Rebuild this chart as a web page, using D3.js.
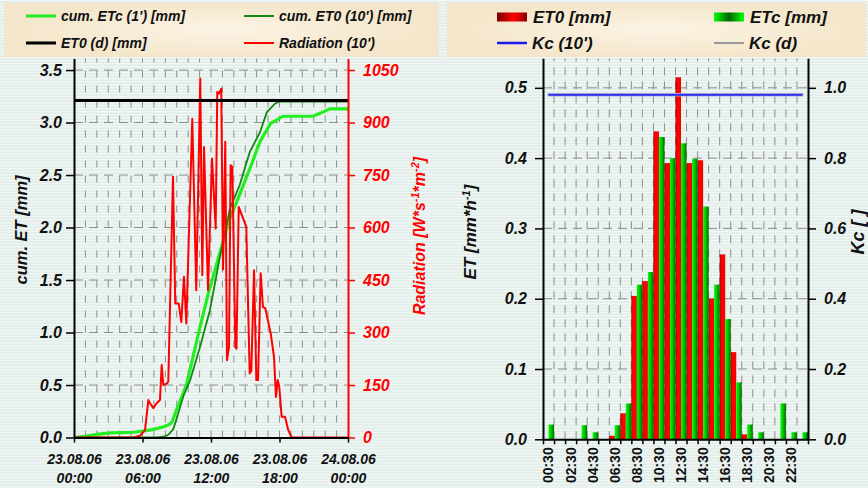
<!DOCTYPE html>
<html>
<head>
<meta charset="utf-8">
<script src="https://cdn.jsdelivr.net/npm/d3@7"></script>
<style>
body { margin: 0; background: #e6f0ec; }
svg text { font-family: "Liberation Sans", Arial, sans-serif; font-weight: bold; font-style: italic; fill: #111; }
</style>
</head>
<body>
<svg id="chart" width="868" height="488"></svg>
<script>
// ---- Données ----
// graphique gauche : heures depuis 23.08.06 00:00
const radHours  = [0, 5.19, 5.78, 6.22, 6.51, 6.66, 6.95, 7.24, 7.53, 7.68, 7.82, 8.12, 8.26, 8.67, 8.87, 9.17, 9.40, 9.63, 9.84,
  10.36, 10.71, 11.06, 11.24, 11.39, 11.74, 12.09, 12.41, 12.55, 12.70, 12.90, 13.05, 13.25, 13.40, 13.58, 13.72, 13.87,
  14.13, 14.23, 14.43, 15.09, 15.39, 15.53, 15.77, 15.97, 16.12, 16.35, 16.55, 16.76, 17.23, 17.52, 17.69, 17.84, 17.98,
  18.19, 18.48, 18.77, 19.07, 24];
const radValues = [0, 0, 5, 21, 107, 98, 84, 98, 107, 207, 150, 154, 160, 745, 383, 383, 330, 459, 326,
  911, 421, 1026, 464, 830, 421, 797, 597, 987, 983, 997, 480, 845, 221, 259, 778, 773,
  259, 254, 659, 602, 183, 190, 478, 164, 164, 469, 373, 369, 297, 230, 116, 164, 145,
  59, 59, 21, 0, 0];

const etcHours  = [0, 1, 2, 3.2, 5.2, 6.65, 7.8, 8.4, 8.6, 9.0, 9.57, 9.87, 10.3, 11.03, 11.76, 12.78, 13.66, 14.5, 15.4, 16.3, 17.2, 18.3, 20.95, 21.6, 22.4, 24];
const etcValues = [0, 0.012, 0.03, 0.044, 0.05, 0.07, 0.10, 0.127, 0.15, 0.27, 0.42, 0.51, 0.71, 1.05, 1.37, 1.76, 2.09, 2.31, 2.56, 2.82, 2.99, 3.06, 3.06, 3.09, 3.13, 3.13];

const et0Hours  = [0, 7.2, 8.0, 8.3, 8.7, 9.1, 9.6, 10.16, 11.03, 11.9, 12.78, 13.66, 14.5, 15.4, 16.3, 16.9, 17.6, 18.0, 24];
const et0Values = [0, 0, 0.01, 0.03, 0.08, 0.22, 0.40, 0.54, 0.86, 1.21, 1.72, 2.18, 2.40, 2.72, 2.91, 3.10, 3.18, 3.20, 3.20];

const et0Daily = 3.21;

const etTicks  = [0, 0.5, 1.0, 1.5, 2.0, 2.5, 3.0, 3.5];
const radTicks = [0, 150, 300, 450, 600, 750, 900, 1050];
const dayTicks = [0, 6, 12, 18, 24];
const dayDates = ["23.08.06", "23.08.06", "23.08.06", "23.08.06", "24.08.06"];
const dayTimes = ["00:00", "06:00", "12:00", "18:00", "00:00"];

// graphique droit : valeurs horaires
const hourLabels = ["00:30", "01:30", "02:30", "03:30", "04:30", "05:30", "06:30", "07:30", "08:30", "09:30", "10:30", "11:30",
  "12:30", "13:30", "14:30", "15:30", "16:30", "17:30", "18:30", "19:30", "20:30", "21:30", "22:30", "23:30"];
const et0Hourly = [0, 0, 0, 0, 0, 0, 0.005, 0.037, 0.204, 0.225, 0.438, 0.393, 0.515, 0.393, 0.397, 0.200, 0.263, 0.124, 0.007, 0, 0, 0, 0, 0];
const etcHourly = [0.021, 0, 0, 0.02, 0.01, 0, 0.02, 0.051, 0.220, 0.238, 0.430, 0.400, 0.421, 0.399, 0.331, 0.220, 0.171, 0.081, 0.021, 0.01, 0, 0.051, 0.01, 0.01];
const kc10 = [0.98, 0.98, 0.98, 0.98, 0.98, 0.98, 0.98, 0.98, 0.98, 0.98, 0.98, 0.98,
  0.98, 0.98, 0.98, 0.98, 0.98, 0.98, 0.98, 0.98, 0.98, 0.98, 0.98, 0.98];
const kcDaily = 0.98;

const etHourTicks = [0, 0.1, 0.2, 0.3, 0.4, 0.5];
const kcTicks = [0, 0.2, 0.4, 0.6, 0.8, 1.0];

// ---- SVG ----
const svg = d3.select("#chart");
const defs = svg.append("defs");

// fond rayé
const pat = defs.append("pattern").attr("id", "stripes")
    .attr("width", 4).attr("height", 3).attr("patternUnits", "userSpaceOnUse");
pat.append("rect").attr("width", 4).attr("height", 3).attr("fill", "#e2ede9");
pat.append("rect").attr("width", 4).attr("height", 1.3).attr("fill", "#f0f7f4");
svg.append("rect").attr("width", 868).attr("height", 488).attr("fill", "url(#stripes)");

const beige = defs.append("radialGradient").attr("id", "beige");
beige.append("stop").attr("offset", "0%").attr("stop-color", "#fbf3e4");
beige.append("stop").attr("offset", "100%").attr("stop-color", "#f4e6ca");

const redGrad = defs.append("linearGradient").attr("id", "redBar");
redGrad.append("stop").attr("offset", "0%").attr("stop-color", "#8a0000");
redGrad.append("stop").attr("offset", "25%").attr("stop-color", "#ff0000");
redGrad.append("stop").attr("offset", "85%").attr("stop-color", "#ff0000");
redGrad.append("stop").attr("offset", "100%").attr("stop-color", "#cc0000");

const greenGrad = defs.append("linearGradient").attr("id", "greenBar");
greenGrad.append("stop").attr("offset", "0%").attr("stop-color", "#00ff00");
greenGrad.append("stop").attr("offset", "45%").attr("stop-color", "#00cc00");
greenGrad.append("stop").attr("offset", "100%").attr("stop-color", "#006a00");

const redSwatch = defs.append("linearGradient").attr("id", "redSwatch");
redSwatch.append("stop").attr("offset", "0%").attr("stop-color", "#7a0000");
redSwatch.append("stop").attr("offset", "55%").attr("stop-color", "#ff0000");
redSwatch.append("stop").attr("offset", "100%").attr("stop-color", "#8a0000");

const greenSwatch = defs.append("linearGradient").attr("id", "greenSwatch");
greenSwatch.append("stop").attr("offset", "0%").attr("stop-color", "#00ff00");
greenSwatch.append("stop").attr("offset", "50%").attr("stop-color", "#006600");
greenSwatch.append("stop").attr("offset", "100%").attr("stop-color", "#00ff00");

// ---- Légendes ----
function legendBox(x, y, w, h) {
    svg.append("rect").attr("x", x).attr("y", y).attr("width", w).attr("height", h).attr("fill", "url(#beige)");
}
function legendLine(x, y, label, color, sw, fs) {
    svg.append("line").attr("x1", x).attr("x2", x + 30).attr("y1", y).attr("y2", y)
        .attr("stroke", color).attr("stroke-width", sw);
    svg.append("text").attr("x", x + 35).attr("y", y).attr("dy", "0.35em")
        .style("font-size", fs + "px").text(label);
}
function legendRect(x, y, label, fill, fs) {
    svg.append("rect").attr("x", x).attr("y", y - 4.5).attr("width", 30).attr("height", 9).attr("fill", fill);
    svg.append("text").attr("x", x + 36).attr("y", y).attr("dy", "0.35em")
        .style("font-size", fs + "px").text(label);
}
legendBox(4, 3, 435, 54);
legendLine(26, 16, "cum. ETc (1') [mm]", "#22ee22", 3, 14);
legendLine(244, 16, "cum. ET0 (10') [mm]", "#118811", 2, 14);
legendLine(26, 43, "ET0 (d) [mm]", "#000", 3, 14);
legendLine(244, 43, "Radiation (10')", "#ff0000", 2, 14);

legendBox(447, 3, 419, 54);
legendRect(497, 17, "ET0 [mm]", "url(#redSwatch)", 17);
legendRect(714, 17, "ETc [mm]", "url(#greenSwatch)", 17);
legendLine(497, 43, "Kc (10')", "#1a1aee", 2.5, 17);
legendLine(714, 43, "Kc (d)", "#999", 2, 17);

const gridColor = "#8c8c8c";

// ---- Graphique gauche ----
const L = { x0: 74, x1: 348, y0: 437.5, y1: 58.5 };
const xL = d3.scaleLinear().domain([0, 24]).range([L.x0, L.x1]);
const yL = d3.scaleLinear().domain([0, 3.61]).range([L.y0, L.y1]);
const yRad = d3.scaleLinear().domain([0, 1083]).range([L.y0, L.y1]);

const gl = svg.append("g");
gl.selectAll(".vg").data(d3.range(1, 24)).enter().append("line")
    .attr("x1", d => xL(d)).attr("x2", d => xL(d)).attr("y1", L.y0).attr("y2", L.y1)
    .attr("stroke", gridColor).attr("stroke-width", 1).attr("stroke-dasharray", "7 8");
gl.selectAll(".hg").data(etTicks.slice(1)).enter().append("line")
    .attr("x1", L.x0).attr("x2", L.x1).attr("y1", d => yL(d)).attr("y2", d => yL(d))
    .attr("stroke", gridColor).attr("stroke-width", 1).attr("stroke-dasharray", "9 6");

const lineL = (hours) => d3.line().x((d, i) => xL(hours[i])).y(d => yL(d));
gl.append("path").datum(etcValues).attr("d", lineL(etcHours))
    .attr("fill", "none").attr("stroke", "#22ee22").attr("stroke-width", 3.2);
gl.append("path").datum(et0Values).attr("d", lineL(et0Hours))
    .attr("fill", "none").attr("stroke", "#118811").attr("stroke-width", 1.8);
gl.append("path").datum(radValues)
    .attr("d", d3.line().x((d, i) => xL(radHours[i])).y(d => yRad(d)))
    .attr("fill", "none").attr("stroke", "#ff0000").attr("stroke-width", 2).attr("stroke-linejoin", "round");
gl.append("line").attr("x1", L.x0).attr("x2", L.x1).attr("y1", yL(et0Daily)).attr("y2", yL(et0Daily))
    .attr("stroke", "#000").attr("stroke-width", 3);

// axes
const axL = gl.append("g").attr("transform", `translate(${L.x0},0)`)
    .call(d3.axisLeft(yL).tickValues(etTicks).tickFormat(d3.format(".1f")).tickSize(8).tickSizeOuter(0).tickPadding(4));
axL.select(".domain").attr("stroke", "#000").attr("stroke-width", 2);
axL.selectAll(".tick line").attr("stroke", "#000").attr("stroke-width", 1.5);
axL.selectAll(".tick text").style("font-size", "16px").attr("fill", "#111");

const axR = gl.append("g").attr("transform", `translate(${L.x1},0)`)
    .call(d3.axisRight(yRad).tickValues(radTicks).tickFormat(d3.format("d")).tickSize(7).tickSizeOuter(0).tickPadding(8));
axR.select(".domain").attr("stroke", "#ff0000").attr("stroke-width", 2);
axR.selectAll(".tick line").attr("stroke", "#ff0000").attr("stroke-width", 1.5);
axR.selectAll(".tick text").style("font-size", "16px").style("fill", "#ff0000");

const axB = gl.append("g").attr("transform", `translate(0,${L.y0})`)
    .call(d3.axisBottom(xL).tickValues(dayTicks).tickFormat("").tickSize(5).tickSizeOuter(0));
axB.select(".domain").attr("stroke", "#000").attr("stroke-width", 2);
axB.selectAll(".tick line").attr("stroke", "#000").attr("stroke-width", 1.5);
axB.selectAll(".tick").append("text").attr("y", 26).attr("text-anchor", "middle")
    .style("font-size", "14px").text((d, i) => dayDates[i]);
axB.selectAll(".tick").append("text").attr("y", 45).attr("text-anchor", "middle")
    .style("font-size", "14px").text((d, i) => dayTimes[i]);

gl.append("text").attr("transform", "translate(27,230) rotate(-90)").attr("text-anchor", "middle")
    .style("font-size", "16.5px").text("cum. ET [mm]");
const radTitle = gl.append("text").attr("transform", "translate(425,236) rotate(-90)").attr("text-anchor", "middle")
    .style("font-size", "16px").style("fill", "#ff0000");
radTitle.append("tspan").text("Radiation [W*s");
radTitle.append("tspan").attr("dy", -6).style("font-size", "11px").text("-1");
radTitle.append("tspan").attr("dy", 6).text("*m");
radTitle.append("tspan").attr("dy", -6).style("font-size", "11px").text("-2");
radTitle.append("tspan").attr("dy", 6).text("]");

// ---- Graphique droit ----
const R = { x0: 543, x1: 808, y0: 439.3, y1: 58.3 };
const xB = d3.scaleBand().domain(hourLabels).range([R.x0, R.x1]);
const xH = d3.scaleLinear().domain([0, 24]).range([R.x0, R.x1]);
const yE = d3.scaleLinear().domain([0, 0.542]).range([R.y0, R.y1]);
const yK = d3.scaleLinear().domain([0, 1.084]).range([R.y0, R.y1]);
const bw = xB.bandwidth();

const gr = svg.append("g");
gr.selectAll(".vg").data(d3.range(1, 24)).enter().append("line")
    .attr("x1", d => xH(d)).attr("x2", d => xH(d)).attr("y1", R.y0).attr("y2", R.y1)
    .attr("stroke", gridColor).attr("stroke-width", 1).attr("stroke-dasharray", "8 6");
gr.selectAll(".hg").data(etHourTicks.slice(1)).enter().append("line")
    .attr("x1", R.x0).attr("x2", R.x1).attr("y1", d => yE(d)).attr("y2", d => yE(d))
    .attr("stroke", gridColor).attr("stroke-width", 1).attr("stroke-dasharray", "9 6");

gr.selectAll(".et0").data(et0Hourly).enter().append("rect")
    .attr("x", (d, i) => xB(hourLabels[i])).attr("width", bw / 2)
    .attr("y", d => yE(d)).attr("height", d => R.y0 - yE(d))
    .attr("fill", "url(#redBar)");
gr.selectAll(".etc").data(etcHourly).enter().append("rect")
    .attr("x", (d, i) => xB(hourLabels[i]) + bw / 2).attr("width", bw / 2)
    .attr("y", d => yE(d)).attr("height", d => R.y0 - yE(d))
    .attr("fill", "url(#greenBar)");

gr.append("line").attr("x1", xB(hourLabels[0]) + bw / 2 - 1).attr("x2", xB(hourLabels[23]) + bw / 2 + 1)
    .attr("y1", yK(kcDaily)).attr("y2", yK(kcDaily))
    .attr("stroke", "#a8a8d8").attr("stroke-width", 3.5);
gr.append("path").datum(kc10)
    .attr("d", d3.line().x((d, i) => xB(hourLabels[i]) + bw / 2).y(d => yK(d)))
    .attr("fill", "none").attr("stroke", "#2a2aee").attr("stroke-width", 1.6);

const aEL = gr.append("g").attr("transform", `translate(${R.x0},0)`)
    .call(d3.axisLeft(yE).tickValues(etHourTicks).tickFormat(d3.format(".1f")).tickSize(8).tickSizeOuter(0).tickPadding(8));
aEL.select(".domain").attr("stroke", "#000").attr("stroke-width", 2);
aEL.selectAll(".tick line").attr("stroke", "#000").attr("stroke-width", 1.5);
aEL.selectAll(".tick text").style("font-size", "16px").attr("fill", "#111");

const aKR = gr.append("g").attr("transform", `translate(${R.x1},0)`)
    .call(d3.axisRight(yK).tickValues(kcTicks).tickFormat(d3.format(".1f")).tickSize(8).tickSizeOuter(0).tickPadding(8));
aKR.select(".domain").attr("stroke", "#000").attr("stroke-width", 2);
aKR.selectAll(".tick line").attr("stroke", "#000").attr("stroke-width", 1.5);
aKR.selectAll(".tick text").style("font-size", "16px").attr("fill", "#111");

const aHB = gr.append("g").attr("transform", `translate(0,${R.y0})`)
    .call(d3.axisBottom(xH).tickValues(d3.range(0, 25)).tickFormat("").tickSize(5).tickSizeOuter(0));
aHB.select(".domain").attr("stroke", "#000").attr("stroke-width", 2);
aHB.selectAll(".tick line").attr("stroke", "#000").attr("stroke-width", 1.5);

gr.selectAll(".hl").data(hourLabels.filter((d, i) => i % 2 === 0)).enter().append("text")
    .attr("transform", d => `translate(${xB(d) + bw / 2},${R.y0 + 8}) rotate(-90)`)
    .attr("text-anchor", "end").attr("dy", "0.35em")
    .style("font-size", "14px").style("font-style", "normal").text(d => d);

const etTitle = gr.append("text").attr("transform", "translate(476,232) rotate(-90)").attr("text-anchor", "middle")
    .style("font-size", "17px");
etTitle.append("tspan").text("ET [mm*h");
etTitle.append("tspan").attr("dy", -6).style("font-size", "11px").text("-1");
etTitle.append("tspan").attr("dy", 6).text("]");
gr.append("text").attr("transform", "translate(864,232) rotate(-90)").attr("text-anchor", "middle")
    .style("font-size", "18px").text("Kc [ ]");
</script>
</body>
</html>
